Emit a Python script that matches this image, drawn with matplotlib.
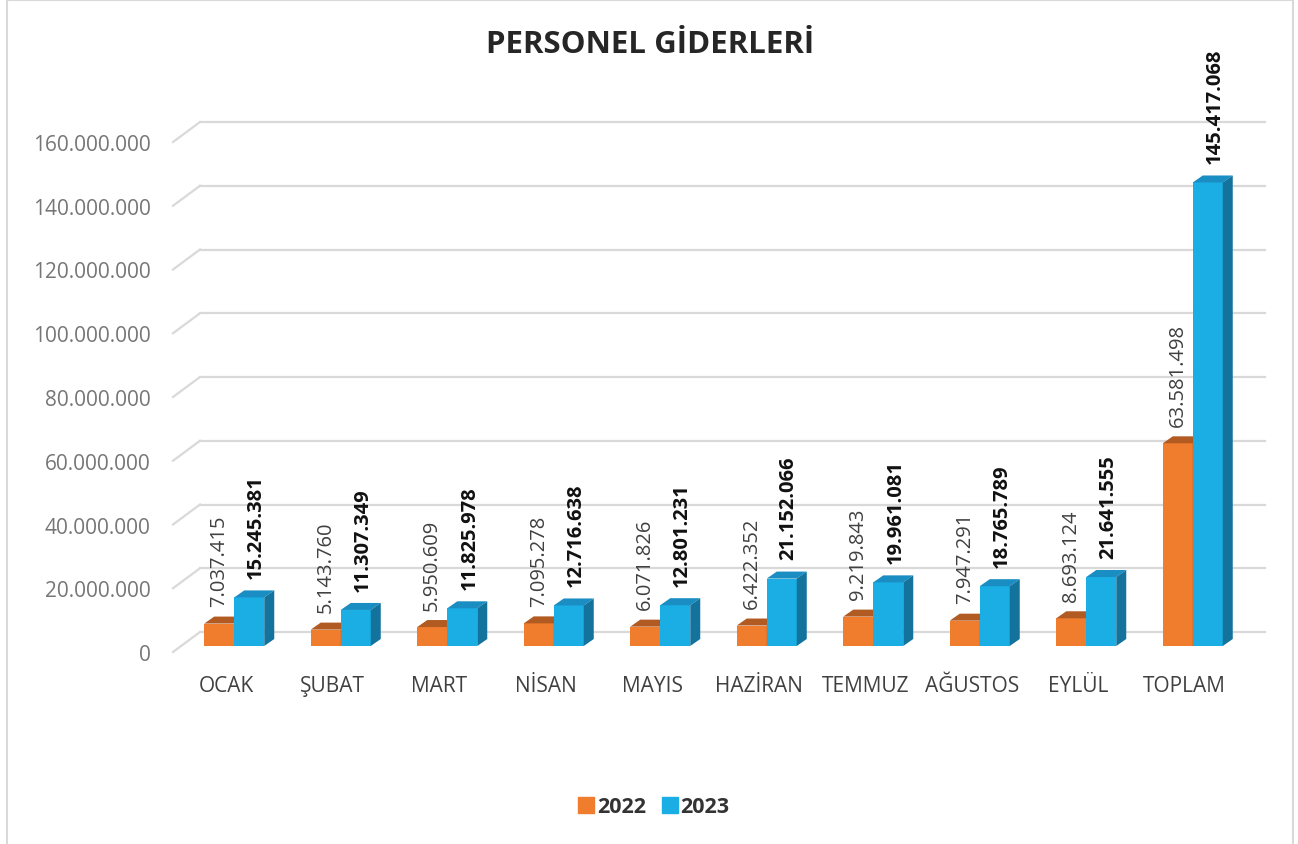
import numpy as np
import matplotlib.pyplot as plt
from matplotlib.patches import Polygon
from matplotlib.lines import Line2D

plt.rcParams['font.family'] = ['Open Sans', 'DejaVu Sans']

# chart data
months = ['OCAK', 'ŞUBAT', 'MART', 'NİSAN', 'MAYIS', 'HAZİRAN', 'TEMMUZ', 'AĞUSTOS', 'EYLÜL', 'TOPLAM']
vals_2022 = [7037415, 5143760, 5950609, 7095278, 6071826, 6422352, 9219843, 7947291, 8693124, 63581498]
vals_2023 = [15245381, 11307349, 11825978, 12716638, 12801231, 21152066, 19961081, 18765789, 21641555, 145417068]
y_ticks = [0, 20000000, 40000000, 60000000, 80000000, 100000000, 120000000, 140000000, 160000000]

W, H = 1298, 845
fig = plt.figure(figsize=(W / 100, H / 100), dpi=100)

# axes placed in pixels (front axis 0 at y=653, 160M at y=143)
ax_l, ax_r, ax_t, ax_b = 173, 1265, 100, 665
ax = fig.add_axes([ax_l / W, 1 - ax_b / H, (ax_r - ax_l) / W, (ax_b - ax_t) / H])

cat_px = 106.5
val_px = 510 / 160e6


def px_x(p):
    return p / cat_px


def px_y(p):
    return p / val_px


x_min = -0.5
x_max = x_min + px_x(ax_r - ax_l)
ax.set_xlim(x_min, x_max)
ax.set_ylim(-px_y(ax_b - 653), px_y(653 - ax_t))
for s in ax.spines.values():
    s.set_visible(False)

grid_col = '#D9D9D9'
wall_dx, wall_dy = px_x(27), px_y(20)
for v in y_ticks:
    ax.plot([x_min, x_min + wall_dx], [v, v + wall_dy], color=grid_col, lw=1.6, zorder=1, clip_on=False)
    ax.plot([x_min + wall_dx, x_max], [v + wall_dy, v + wall_dy], color=grid_col, lw=1.6, zorder=1, clip_on=False)

# 3d-ish bars
bar_w = px_x(30)
shift_x, base = px_x(8), px_y(6)
dep_x, dep_y = px_x(10), px_y(7)

orange = ('#F07D2E', '#B15A22', '#B15A22')
blue = ('#1BAEE4', '#1A8DC2', '#13739C')


def draw_bar(x0, val, cols, z):
    x1 = x0 + bar_w
    top = base + val
    ax.add_patch(Polygon([(x0, base), (x1, base), (x1, top), (x0, top)], closed=True,
                         facecolor=cols[0], edgecolor='none', zorder=z))
    ax.add_patch(Polygon([(x0, top), (x1, top), (x1 + dep_x, top + dep_y), (x0 + dep_x, top + dep_y)],
                         closed=True, facecolor=cols[1], edgecolor='none', zorder=z))
    ax.add_patch(Polygon([(x1, base), (x1, top), (x1 + dep_x, top + dep_y), (x1 + dep_x, base + dep_y)],
                         closed=True, facecolor=cols[2], edgecolor='none', zorder=z))


def fmt(v):
    return f'{v:,}'.replace(',', '.')


x = np.arange(len(months))
for i in x:
    c = i + shift_x
    draw_bar(c - bar_w, vals_2022[i], orange, 3)
    draw_bar(c, vals_2023[i], blue, 4)
    ax.annotate(fmt(vals_2022[i]), (c - bar_w / 2, base + vals_2022[i]), xytext=(0, 12.5),
                textcoords='offset points', rotation=90, ha='center', va='bottom',
                fontsize=14.5, color='#404040', zorder=6)
    ax.annotate(fmt(vals_2023[i]), (c + bar_w / 2 + px_x(7), base + vals_2023[i]), xytext=(0, 14),
                textcoords='offset points', rotation=90, ha='center', va='bottom',
                fontsize=14.5, fontweight='bold', color='#111111', zorder=6)

ax.set_yticks(y_ticks)
ax.set_yticklabels([fmt(v) for v in y_ticks], fontsize=15, color='#767676')
ax.set_xticks(x)
ax.set_xticklabels(months, fontsize=15, color='#404040')
ax.tick_params(axis='y', length=0, pad=16)
ax.tick_params(axis='x', length=0, pad=8)

fig.text(650 / W, 1 - 45 / H, 'PERSONEL GİDERLERİ', ha='center', va='center',
         fontsize=22.5, fontweight='bold', color='#262626')

handles = [Line2D([], [], marker='s', ls='none', markersize=11.5, color=orange[0]),
           Line2D([], [], marker='s', ls='none', markersize=11.5, color=blue[0])]
leg = fig.legend(handles, ['2022', '2023'], loc='center', bbox_to_anchor=(654 / W, 1 - 808 / H),
                 ncol=2, frameon=False, handlelength=0.7, handletextpad=0.15, columnspacing=0.75,
                 prop={'size': 15.5, 'weight': 'bold'})
for t in leg.get_texts():
    t.set_color('#333333')

# chart border
fig.add_artist(plt.Rectangle((7 / W, -0.01), (1293 - 7) / W, 1 - 1 / H + 0.01, transform=fig.transFigure,
                             fill=False, edgecolor='#D9D9D9', lw=1.5))

fig.savefig('out.png', dpi=100)
